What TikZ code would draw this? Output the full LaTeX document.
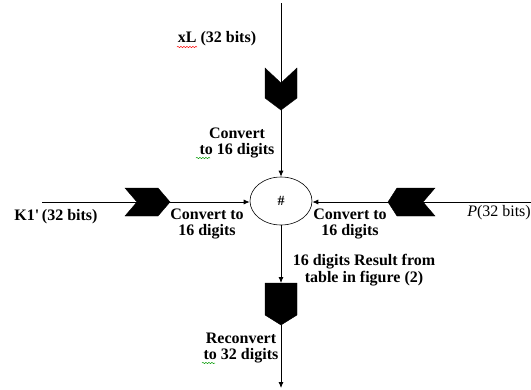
\documentclass[tikz,border=0pt]{standalone}
\usepackage{fontspec}
\setmainfont{Liberation Serif}
\usetikzlibrary{arrows.meta,shapes.geometric,decorations.pathmorphing}
\begin{document}
\begin{tikzpicture}[x=1pt,y=-1pt,
 lbl/.style={font=\fontsize{16}{16.5}\selectfont\bfseries, align=center, inner sep=0pt},
 conn/.style={line width=0.8pt, -{Latex[length=6pt,width=5pt]}},
 chev/.style={fill=black, draw=black},
 squig/.style={decorate, decoration={snake, amplitude=0.6pt, segment length=3pt}, line width=0.5pt}]
\useasboundingbox (0,0) rectangle (531,389);
\node[ellipse, draw, line width=0.6pt, minimum width=62pt, minimum height=48pt, inner sep=0pt, font=\fontsize{14}{14}\selectfont\bfseries] (circ) at (281,201) {\#};
\coordinate (ts) at (281,3);
\coordinate (ls) at (42,202);
\coordinate (rs) at (531,202);
\coordinate (bt) at (281,283);
\coordinate (bb) at (281,325);
\coordinate (be) at (281,388);
% connectors
\draw[conn] (ts) -- (circ.north);
\draw[conn] (ls) -- (ls -| circ.west);
\draw[conn] (rs) -- (rs -| circ.east);
\draw[conn] (circ.south) -- (bt);
\draw[conn] (bb) -- (be);
% chevrons
\fill[chev] (265,68) -- (281,83) -- (297,68) -- (297,98) -- (281,110) -- (265,98) -- cycle;
\fill[chev] (125,188) -- (158,188) -- (170,202) -- (158,216) -- (125,216) -- (137,202) -- cycle;
\fill[chev] (435,188) -- (397,188) -- (388,202) -- (397,216) -- (435,216) -- (423,202) -- cycle;
\fill[chev] (265,283) -- (297,283) -- (297,315) -- (281,325) -- (265,315) -- cycle;
% labels
\node[lbl] (xl) at (217,39) {xL (32 bits)};
\node[lbl] (c1) at (237,143) {Convert\\to 16 digits};
\node[lbl] (k1) at (56,217) {K1\textquotesingle\,(32 bits)};
\node[lbl] (c2) at (207,224) {Convert to\\16 digits};
\node[lbl] (c3) at (350,224) {Convert to\\16 digits};
\node[lbl, font=\fontsize{16}{16.5}\selectfont, anchor=east] (p) at (531,213) {\textit{P}(32 bits)};
\node[lbl] (res) at (364,270) {16 digits Result from\\table in figure (2)};
\node[lbl] (rc) at (241,348) {Reconvert\\to 32 digits};
% spell-check squiggles
\draw[squig, red] (177,47) -- (197,47);
\draw[squig, green!60!black] (196,158) -- (210,158);
\draw[squig, green!60!black] (202,363) -- (215,363);
\end{tikzpicture}
\end{document}
